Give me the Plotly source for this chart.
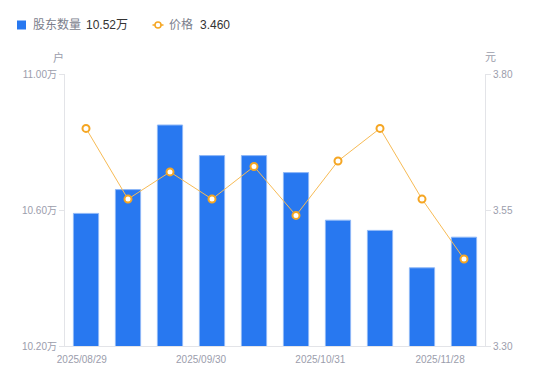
import plotly.graph_objects as go

# ---- data ----
holders = [10.59, 10.66, 10.85, 10.76, 10.76, 10.71, 10.57, 10.54, 10.43, 10.52]  # 万户
prices = [3.70, 3.57, 3.62, 3.57, 3.63, 3.54, 3.64, 3.70, 3.57, 3.46]            # 元
date_labels = ["2025/08/29", "2025/09/30", "2025/10/31", "2025/11/28"]
left_ticks = [10.20, 10.60, 11.00]
right_ticks = [3.30, 3.55, 3.80]
series_names = ["股东数量", "价格"]
unit_left = "户"
unit_right = "元"

# ---- layout constants ----
W, H = 550, 381
ML, MR, MT, MB = 65, 65, 74, 35
PW, PH = W - ML - MR, H - MT - MB
FONT = "Liberation Sans, Noto Sans CJK SC, sans-serif"
BLUE = "#2878f0"
ORANGE = "#f5a623"
AXIS = "#e3e4e8"
TICKTXT = "#9b9dac"

idx = list(range(len(holders)))
date_pos = [-0.10, 2.74, 5.58, 8.43]


def pxx(x):
    return (x - ML) / PW


def pxy(y):
    return (H - MB - y) / PH


fig = go.Figure()
fig.add_trace(go.Bar(
    x=idx, y=holders, width=0.6, name=series_names[0],
    marker=dict(color=BLUE, line=dict(color="#8fb8f7", width=1)),
    yaxis="y", showlegend=False,
))
fig.add_trace(go.Scatter(
    x=idx, y=prices, name=series_names[1], mode="lines+markers",
    line=dict(color="#f7bb55", width=1),
    marker=dict(symbol="circle", size=7, color="white",
                line=dict(color=ORANGE, width=2)),
    yaxis="y2", showlegend=False, cliponaxis=False,
))

axis_common = dict(showgrid=False, zeroline=False, showline=True,
                   linecolor=AXIS, linewidth=1, ticks="outside", ticklen=5,
                   tickcolor=AXIS, tickfont=dict(family=FONT, size=10, color=TICKTXT))

fig.update_layout(
    width=W, height=H,
    margin=dict(l=ML, r=MR, t=MT, b=MB, pad=0),
    paper_bgcolor="white", plot_bgcolor="white",
    bargap=0.4,
    font=dict(family=FONT),
    xaxis=dict(range=[-0.5, len(holders) - 0.5], showgrid=False, zeroline=False,
               showline=True, linecolor=AXIS, linewidth=1, ticks="",
               tickvals=date_pos, ticktext=date_labels, ticklabelstandoff=4,
               tickfont=dict(family=FONT, size=10, color=TICKTXT)),
    yaxis=dict(range=[left_ticks[0], left_ticks[-1]], tickvals=left_ticks,
               ticktext=[f"{v:.2f}万" for v in left_ticks], **axis_common),
    yaxis2=dict(range=[right_ticks[0], right_ticks[-1]], tickvals=right_ticks,
                ticktext=[f"{v:.2f}" for v in right_ticks], overlaying="y",
                side="right", **axis_common),
)

ann = []
# axis units
ann.append(dict(x=pxx(58.5), y=pxy(57), text=unit_left, showarrow=False,
                xref="paper", yref="paper", xanchor="center", yanchor="middle",
                font=dict(family=FONT, size=11, color=TICKTXT)))
ann.append(dict(x=pxx(490), y=pxy(57), text=unit_right, showarrow=False,
                xref="paper", yref="paper", xanchor="center", yanchor="middle",
                font=dict(family=FONT, size=11, color=TICKTXT)))
# legend texts
leg_y = pxy(25)
ann.append(dict(x=pxx(31), y=leg_y, text=series_names[0], showarrow=False,
                xref="paper", yref="paper", xanchor="left", yanchor="middle",
                font=dict(family=FONT, size=12, color="#7b7e8c")))
ann.append(dict(x=pxx(84), y=leg_y, text=f"{holders[-1]:.2f}万", showarrow=False,
                xref="paper", yref="paper", xanchor="left", yanchor="middle",
                font=dict(family=FONT, size=12, color="#333333")))
ann.append(dict(x=pxx(167), y=leg_y, text=series_names[1], showarrow=False,
                xref="paper", yref="paper", xanchor="left", yanchor="middle",
                font=dict(family=FONT, size=12, color="#7b7e8c")))
ann.append(dict(x=pxx(198), y=leg_y, text=f"{prices[-1]:.3f}", showarrow=False,
                xref="paper", yref="paper", xanchor="left", yanchor="middle",
                font=dict(family=FONT, size=12, color="#333333")))

shapes = [
    dict(type="rect", xref="paper", yref="paper",
         x0=pxx(17), x1=pxx(26), y0=pxy(29.5), y1=pxy(20.5),
         fillcolor=BLUE, line=dict(width=0)),
    dict(type="line", xref="paper", yref="paper",
         x0=pxx(152.5), x1=pxx(163.5), y0=leg_y, y1=leg_y,
         line=dict(color=ORANGE, width=1.5)),
    dict(type="circle", xref="paper", yref="paper",
         x0=pxx(155), x1=pxx(161), y0=pxy(28), y1=pxy(22),
         fillcolor="white", line=dict(color=ORANGE, width=1.5)),
]
fig.update_layout(annotations=ann, shapes=shapes)

fig.write_html("out.html", config={"displayModeBar": False},
               post_script="document.body.style.margin='0';document.body.style.padding='0';")
